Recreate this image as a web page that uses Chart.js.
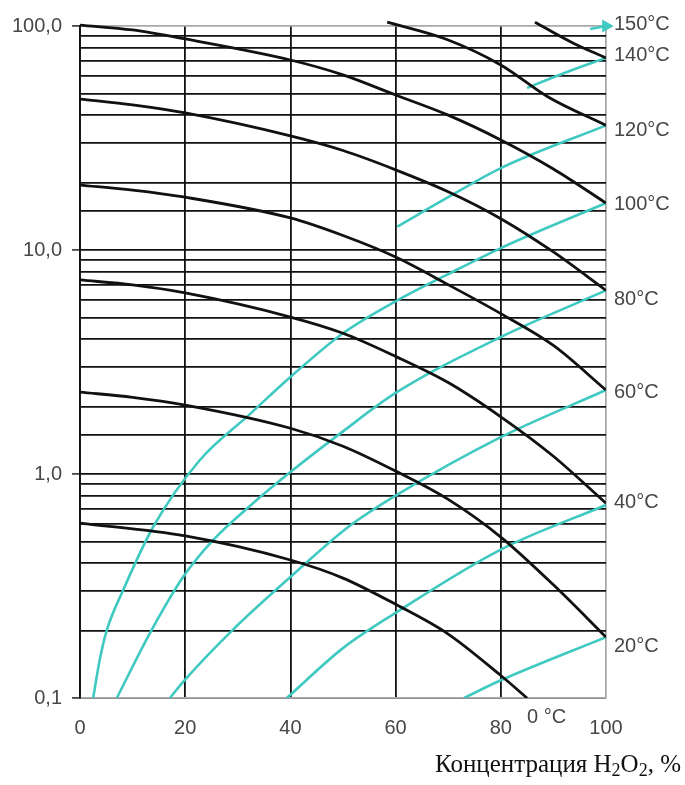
<!DOCTYPE html>
<html>
<head>
<meta charset="utf-8">
<script src="https://cdn.jsdelivr.net/npm/chart.js@4.4.1/dist/chart.umd.min.js"></script>
<style>
  html, body { margin: 0; padding: 0; background: #fff; }
  #wrap { position: relative; width: 685px; height: 785px; }
  #title { position: absolute; right: 4px; top: 750px; font-family: 'Liberation Serif', serif; font-size: 25px; color: #111; white-space: nowrap; }
  #title sub { font-size: 18px; vertical-align: -4px; line-height: 0; }
</style>
</head>
<body>
<div id="wrap">
  <canvas id="chart" width="685" height="785"></canvas>
  <div id="title">Концентрация H<sub>2</sub>O<sub>2</sub>, %</div>
</div>
<script>
// isotherms: [concentration %, pressure]
const black0 = [[0, 0.604], [20, 0.529], [40, 0.413], [50, 0.343], [60, 0.262], [70, 0.193], [80, 0.126], [85, 0.1]];
const black20 = [[0, 2.32], [10, 2.2], [20, 2.03], [40, 1.6], [50, 1.33], [60, 1.03], [70, 0.77], [80, 0.523], [90, 0.32], [100, 0.187]];
const black40 = [[0, 7.35], [10, 6.98], [20, 6.43], [40, 5.02], [50, 4.25], [60, 3.35], [70, 2.56], [80, 1.8], [90, 1.2], [100, 0.74]];
const black60 = [[0, 19.5], [10, 18.5], [20, 17.2], [40, 13.9], [50, 11.6], [60, 9.3], [70, 7.0], [80, 5.2], [90, 3.75], [100, 2.37]];
const black80 = [[0, 47.2], [10, 44.4], [20, 40.9], [40, 32.3], [50, 27.8], [60, 22.8], [70, 18.2], [80, 13.8], [90, 9.8], [100, 6.6]];
const black100 = [[0, 101], [10, 96], [20, 87.5], [40, 70.5], [50, 60.5], [60, 49.2], [70, 40], [80, 31], [90, 23], [100, 16.2]];
const black120 = [[58.4, 104], [70, 86.6], [80, 67], [89, 48.2], [100, 36]];
const black140 = [[86.5, 104], [93.7, 84], [100, 72]];

// vapour composition curves
const cyan20 = [[73, 0.1], [80, 0.12], [100, 0.187]];
const cyan40 = [[39.3, 0.1], [50, 0.167], [60, 0.24], [80, 0.46], [100, 0.727]];
const cyan60 = [[17.1, 0.1], [19.6, 0.118], [29, 0.201], [40, 0.347], [51, 0.58], [60, 0.8], [80, 1.46], [100, 2.37]];
const cyan80 = [[7, 0.1], [13.3, 0.195], [19.6, 0.347], [25.3, 0.507], [32.3, 0.72], [40, 1.02], [50, 1.55], [60, 2.3], [80, 4.09], [100, 6.6]];
const cyan100 = [[2.5, 0.1], [3.8, 0.15], [5.1, 0.201], [8.2, 0.303], [13.9, 0.58], [22.8, 1.155], [32.3, 1.85], [40, 2.71], [50, 4.25], [60, 5.9], [70, 7.8], [80, 10.2], [100, 16.2]];
const cyan120 = [[60.3, 12.7], [70, 17.2], [80, 23.2], [100, 36]];
const cyan140 = [[85, 52.9], [85.5, 53.5], [92.6, 62.3], [100, 72]];
const cyan150 = [[97, 97], [100, 100]];

const xTicks = [0, 20, 40, 60, 80, 100];
const tempLabels = ['150°C', '140°C', '120°C', '100°C', '80°C', '60°C', '40°C', '20°C'];
const tempLabelY = [102, 73.5, 34.3, 16.0, 6.04, 2.3, 0.75, 0.169];
const zeroLabel = { text: '0 °C', x: 85 };

const BLACK = '#111';
const CYAN = '#3fc9c1';
const GREY = '#474747';
const FONT = '"Liberation Sans", Arial, sans-serif';

const pts = arr => arr.map(p => ({ x: p[0], y: p[1] }));
const isMajor = v => Math.abs(Math.log10(v) - Math.round(Math.log10(v))) < 1e-6;

const blackSets = [black0, black20, black40, black60, black80, black100, black120, black140].map(d => ({
    data: pts(d), borderColor: BLACK, borderWidth: 2.8, pointRadius: 0,
    cubicInterpolationMode: 'monotone', fill: false,
    clip: { left: 0, top: 6, right: 0, bottom: 0 }
}));
const cyanSets = [cyan20, cyan40, cyan60, cyan80, cyan100, cyan120, cyan140].map(d => ({
    data: pts(d), borderColor: CYAN, borderWidth: 2.6, pointRadius: 0,
    cubicInterpolationMode: 'monotone', fill: false
}));
cyanSets.push({
    data: pts(cyan150), borderColor: CYAN, borderWidth: 2.6, fill: false, tension: 0,
    pointRadius: cyan150.map((_, i) => i === cyan150.length - 1 ? 5 : 0),
    pointStyle: 'triangle', rotation: 90, pointBackgroundColor: CYAN, pointBorderColor: CYAN,
    clip: false
});

const sideLabels = {
    id: 'sideLabels',
    afterDraw: (chart) => {
        const { ctx, scales, chartArea } = chart;
        ctx.save();
        ctx.fillStyle = GREY;
        ctx.font = '20px ' + FONT;
        ctx.textAlign = 'left';
        ctx.textBaseline = 'middle';
        tempLabels.forEach((t, i) => {
            ctx.fillText(t, chartArea.right + 8, scales.y.getPixelForValue(tempLabelY[i]));
        });
        ctx.fillText(zeroLabel.text, scales.x.getPixelForValue(zeroLabel.x), chartArea.bottom + 19);
        ctx.restore();
    }
};

new Chart(document.getElementById('chart').getContext('2d'), {
    type: 'line',
    data: { datasets: [...blackSets, ...cyanSets] },
    options: {
        responsive: false,
        animation: false,
        events: [],
        layout: { padding: { left: 0, top: 26, right: 79, bottom: 47 } },
        plugins: { legend: { display: false }, tooltip: { enabled: false } },
        scales: {
            x: {
                type: 'linear', min: 0, max: 100,
                afterFit: s => { s.height = 40; },
                afterBuildTicks: s => { s.ticks = xTicks.map(v => ({ value: v })); },
                grid: {
                    color: c => c.tick && c.tick.value === 100 ? '#aaa' : BLACK,
                    lineWidth: 1.8, drawTicks: false
                },
                border: { display: true, color: '#aaa', width: 1.8 },
                ticks: { color: GREY, padding: 18, maxRotation: 0, font: { family: FONT, size: 20 } }
            },
            y: {
                type: 'logarithmic', min: 0.1, max: 100,
                afterFit: s => { s.width = 80; },
                grid: {
                    color: c => c.tick && (Math.abs(c.tick.value - 100) < 1e-6) ? '#aaa' : BLACK,
                    lineWidth: 1.8,
                    tickLength: 8,
                    tickColor: c => c.tick && isMajor(c.tick.value) ? GREY : 'transparent'
                },
                border: { display: true, color: BLACK, width: 1.8 },
                ticks: {
                    color: GREY, padding: 10, autoSkip: false,
                    font: { family: FONT, size: 20 },
                    callback: v => isMajor(v) ? v.toFixed(1).replace('.', ',') : ''
                }
            }
        }
    },
    plugins: [sideLabels]
});
</script>
</body>
</html>
